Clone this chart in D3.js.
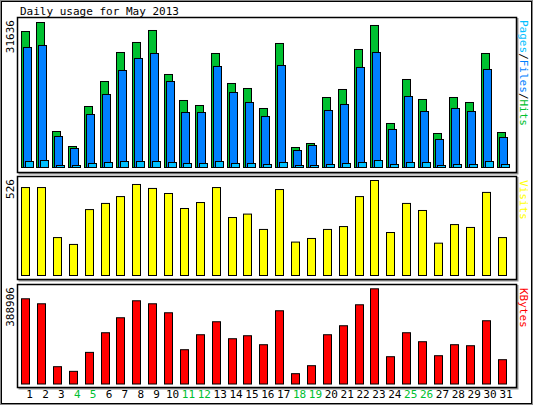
<!DOCTYPE html>
<html><head><meta charset="utf-8">
<script src="https://cdn.jsdelivr.net/npm/d3@7"></script>
<style>body{margin:0;background:#fff}svg{display:block}</style>
</head><body>
<script>
const days = d3.range(1, 32);
const weekends = [4,5,11,12,18,19,25,26];
const hits = [29670,31636,7855,4582,13310,18765,25093,27275,29893,20293,14620,13528,24875,18329,17238,12874,27057,4364,5237,15274,17020,25748,30985,9601,19202,14838,7419,15274,14183,24875,7637];
const files = [26184,26620,6764,4146,11565,15929,21165,23784,24875,18765,12001,12001,22038,16365,14183,11128,22256,3709,4800,12437,13747,21820,25093,8292,15492,12219,6110,12874,12219,21384,6546];
const pages = [1309,1527,436,436,873,1091,1309,1309,1309,1091,873,873,1309,873,873,655,1091,436,436,655,873,1091,1527,655,1091,1091,436,655,655,1309,655];
const visits = [487,487,210,172,365,399,437,504,482,454,371,404,487,321,340,255,476,185,205,255,271,437,526,238,399,360,179,282,266,460,210];
const kbytes = [348112,327715,70710,51673,129182,209413,270604,339953,327715,291000,140060,201252,254286,184934,197172,160459,299158,42154,74790,201252,237967,323636,388906,111504,209413,172695,115583,160459,156380,258364,99266];
const maxLabels = ["31636","526","388906"];

const W=533,H=405;
const svg=d3.select("body").append("svg").attr("width",W).attr("height",H);
const font="DejaVu Sans Mono";
svg.append("rect").attr("x",0.5).attr("y",0.5).attr("width",W-1).attr("height",H-1).attr("fill","#fff").attr("stroke","#888");
svg.append("rect").attr("x",1.5).attr("y",1.5).attr("width",W-3).attr("height",H-3).attr("fill","none").attr("stroke","#000");
svg.append("text").attr("x",20).attr("y",15).attr("font-family",font).attr("font-size",11).text("Daily usage for May 2013");

const x=d3.scaleLinear().domain([1,31]).range([29.6,506]);

function panel(y0,y1){
  svg.append("path").attr("d",`M${18.5},${y1+1.5}H${517.5}V${y0+1}`).attr("fill","none").attr("stroke","#999").attr("stroke-width",2);
  svg.append("rect").attr("x",17.5).attr("y",y0+0.5).attr("width",499).attr("height",y1-y0).attr("fill","#fff").attr("stroke","#000").attr("stroke-width",1.5);
}
panel(17,172); panel(176,279); panel(284,387);

function bars(data,y,off,color){
  svg.append("g").selectAll("rect").data(data).join("rect")
    .attr("x",(d,i)=>Math.round(x(days[i])+off)+0.5)
    .attr("y",d=>y(d)+0.5).attr("width",8).attr("height",d=>y(0)-y(d))
    .attr("fill",color).attr("stroke","#000");
}
const y1=d3.scaleLinear().domain([0,31636]).range([167,22]);
bars(hits,y1,-9,"#00c030");
bars(files,y1,-7,"#0080ff");
bars(pages,y1,-5,"#00c0ff");
const y2=d3.scaleLinear().domain([0,526]).range([275,180]);
bars(visits,y2,-8.5,"#ffff00");
const y3=d3.scaleLinear().domain([0,388906]).range([383.5,288.3]);
bars(kbytes,y3,-8.5,"#ff0000");

function vlab(txt,xx,yy,rot,parts){
  const t=svg.append("text").attr("transform",`translate(${xx},${yy}) rotate(${rot})`)
    .attr("font-family",font).attr("font-size",11).attr("text-anchor",rot<0?"end":"start");
  parts.forEach(p=>t.append("tspan").attr("fill",p[1]).text(p[0]));
}
vlab("",14,20,-90,[[maxLabels[0],"#000"]]);
vlab("",14,179,-90,[[maxLabels[1],"#000"]]);
vlab("",14,287,-90,[[maxLabels[2],"#000"]]);
vlab("",520,20,90,[["Pages","#00c0ff"],["/","#000"],["Files","#0080ff"],["/","#000"],["Hits","#00c030"]]);
vlab("",520,180,90,[["Visits","#ffff00"]]);
vlab("",520,288,90,[["KBytes","#ff0000"]]);

svg.append("g").selectAll("text").data(days).join("text")
  .attr("x",d=>x(d)).attr("y",398).attr("text-anchor","middle")
  .attr("font-family",font).attr("font-size",11)
  .attr("fill",d=>weekends.includes(d)?"#00c030":"#000").text(d=>d);
</script>
</body></html>
